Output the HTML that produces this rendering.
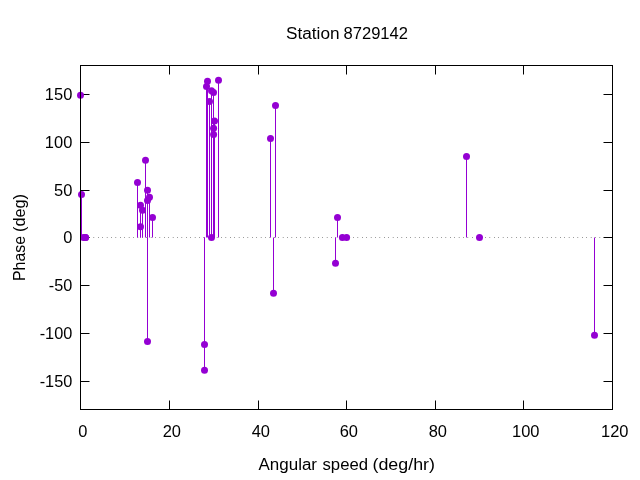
<!DOCTYPE html>
<html lang="en"><head><meta charset="utf-8"><title>Station 8729142</title>
<style>html,body{margin:0;padding:0;background:#fff;}body{width:640px;height:480px;overflow:hidden;}svg{display:block;}text{font-family:'Liberation Sans', sans-serif;font-size:16px;fill:#000;}</style></head><body>
<svg width="640" height="480" viewBox="0 0 640 480">
<rect x="0" y="0" width="640" height="480" fill="#fff"/>
<line x1="80.5" y1="237.5" x2="612.5" y2="237.5" stroke="#000" stroke-width="1" stroke-dasharray="0.4 4"/>
<g stroke="#000" stroke-width="1">
<line x1="80.5" y1="381.5" x2="89.5" y2="381.5"/>
<line x1="612.5" y1="381.5" x2="603.5" y2="381.5"/>
<line x1="80.5" y1="333.5" x2="89.5" y2="333.5"/>
<line x1="612.5" y1="333.5" x2="603.5" y2="333.5"/>
<line x1="80.5" y1="285.5" x2="89.5" y2="285.5"/>
<line x1="612.5" y1="285.5" x2="603.5" y2="285.5"/>
<line x1="80.5" y1="237.5" x2="89.5" y2="237.5"/>
<line x1="612.5" y1="237.5" x2="603.5" y2="237.5"/>
<line x1="80.5" y1="190.5" x2="89.5" y2="190.5"/>
<line x1="612.5" y1="190.5" x2="603.5" y2="190.5"/>
<line x1="80.5" y1="142.5" x2="89.5" y2="142.5"/>
<line x1="612.5" y1="142.5" x2="603.5" y2="142.5"/>
<line x1="80.5" y1="94.5" x2="89.5" y2="94.5"/>
<line x1="612.5" y1="94.5" x2="603.5" y2="94.5"/>
<line x1="80.5" y1="409.5" x2="80.5" y2="400.5"/>
<line x1="80.5" y1="65.5" x2="80.5" y2="74.5"/>
<line x1="169.5" y1="409.5" x2="169.5" y2="400.5"/>
<line x1="169.5" y1="65.5" x2="169.5" y2="74.5"/>
<line x1="258.5" y1="409.5" x2="258.5" y2="400.5"/>
<line x1="258.5" y1="65.5" x2="258.5" y2="74.5"/>
<line x1="346.5" y1="409.5" x2="346.5" y2="400.5"/>
<line x1="346.5" y1="65.5" x2="346.5" y2="74.5"/>
<line x1="435.5" y1="409.5" x2="435.5" y2="400.5"/>
<line x1="435.5" y1="65.5" x2="435.5" y2="74.5"/>
<line x1="523.5" y1="409.5" x2="523.5" y2="400.5"/>
<line x1="523.5" y1="65.5" x2="523.5" y2="74.5"/>
<line x1="612.5" y1="409.5" x2="612.5" y2="400.5"/>
<line x1="612.5" y1="65.5" x2="612.5" y2="74.5"/>
</g>
<g stroke="#9400D3" stroke-width="1">
<line x1="80.5" y1="237.5" x2="80.5" y2="95.3"/>
<line x1="81.5" y1="237.5" x2="81.5" y2="194.5"/>
<line x1="137.5" y1="237.5" x2="137.5" y2="182.5"/>
<line x1="140.5" y1="237.5" x2="140.5" y2="205.2"/>
<line x1="140.5" y1="237.5" x2="140.5" y2="226.7"/>
<line x1="142.5" y1="237.5" x2="142.5" y2="210.3"/>
<line x1="145.5" y1="237.5" x2="145.5" y2="160.3"/>
<line x1="147.5" y1="237.5" x2="147.5" y2="190.3"/>
<line x1="147.5" y1="237.5" x2="147.5" y2="200.6"/>
<line x1="147.5" y1="237.5" x2="147.5" y2="341.4"/>
<line x1="149.5" y1="237.5" x2="149.5" y2="197.3"/>
<line x1="152.5" y1="237.5" x2="152.5" y2="217.4"/>
<line x1="204.5" y1="237.5" x2="204.5" y2="344.4"/>
<line x1="204.5" y1="237.5" x2="204.5" y2="370.3"/>
<line x1="206.5" y1="237.5" x2="206.5" y2="86.6"/>
<line x1="207.5" y1="237.5" x2="207.5" y2="81.25"/>
<line x1="209.5" y1="237.5" x2="209.5" y2="101.5"/>
<line x1="211.5" y1="237.5" x2="211.5" y2="90.7"/>
<line x1="213.5" y1="237.5" x2="213.5" y2="92.4"/>
<line x1="214.5" y1="237.5" x2="214.5" y2="121"/>
<line x1="213.6" y1="237.5" x2="213.6" y2="128.2"/>
<line x1="213.6" y1="237.5" x2="213.6" y2="134.5"/>
<line x1="218.5" y1="237.5" x2="218.5" y2="80.3"/>
<line x1="270.5" y1="237.5" x2="270.5" y2="138.4"/>
<line x1="273.5" y1="237.5" x2="273.5" y2="293.3"/>
<line x1="275.5" y1="237.5" x2="275.5" y2="105.4"/>
<line x1="335.5" y1="237.5" x2="335.5" y2="263.3"/>
<line x1="337.5" y1="237.5" x2="337.5" y2="217.4"/>
<line x1="466.5" y1="237.5" x2="466.5" y2="156.4"/>
<line x1="594.5" y1="237.5" x2="594.5" y2="335.3"/>
</g>
<g fill="#9400D3">
<circle cx="80.5" cy="95.3" r="3.5"/>
<circle cx="81.5" cy="194.5" r="3.5"/>
<circle cx="83.5" cy="237.5" r="3.5"/>
<circle cx="85.5" cy="237.5" r="3.5"/>
<circle cx="85.5" cy="237.5" r="3.5"/>
<circle cx="137.5" cy="182.5" r="3.5"/>
<circle cx="140.5" cy="205.2" r="3.5"/>
<circle cx="140.5" cy="226.7" r="3.5"/>
<circle cx="142.5" cy="210.3" r="3.5"/>
<circle cx="145.5" cy="160.3" r="3.5"/>
<circle cx="147.5" cy="190.3" r="3.5"/>
<circle cx="147.5" cy="200.6" r="3.5"/>
<circle cx="147.5" cy="341.4" r="3.5"/>
<circle cx="149.5" cy="197.3" r="3.5"/>
<circle cx="152.5" cy="217.4" r="3.5"/>
<circle cx="204.5" cy="344.4" r="3.5"/>
<circle cx="204.5" cy="370.3" r="3.5"/>
<circle cx="206.5" cy="86.6" r="3.5"/>
<circle cx="207.5" cy="81.25" r="3.5"/>
<circle cx="209.5" cy="101.5" r="3.5"/>
<circle cx="211.5" cy="90.7" r="3.5"/>
<circle cx="211.5" cy="237.5" r="3.5"/>
<circle cx="213.5" cy="92.4" r="3.5"/>
<circle cx="214.5" cy="121" r="3.5"/>
<circle cx="213.6" cy="128.2" r="3.5"/>
<circle cx="213.6" cy="134.5" r="3.5"/>
<circle cx="218.5" cy="80.3" r="3.5"/>
<circle cx="270.5" cy="138.4" r="3.5"/>
<circle cx="273.5" cy="293.3" r="3.5"/>
<circle cx="275.5" cy="105.4" r="3.5"/>
<circle cx="335.5" cy="263.3" r="3.5"/>
<circle cx="337.5" cy="217.4" r="3.5"/>
<circle cx="342.4" cy="237.5" r="3.5"/>
<circle cx="346.6" cy="237.5" r="3.5"/>
<circle cx="466.5" cy="156.4" r="3.5"/>
<circle cx="479.5" cy="237.5" r="3.5"/>
<circle cx="594.5" cy="335.3" r="3.5"/>
</g>
<rect x="80.5" y="65.5" width="532" height="344" fill="none" stroke="#000" stroke-width="1"/>
<text x="72.3" y="387.2" text-anchor="end" textLength="32.61" lengthAdjust="spacingAndGlyphs">-150</text>
<text x="72.3" y="339.2" text-anchor="end" textLength="32.61" lengthAdjust="spacingAndGlyphs">-100</text>
<text x="72.3" y="291.2" text-anchor="end" textLength="23.46" lengthAdjust="spacingAndGlyphs">-50</text>
<text x="72.3" y="243.2" text-anchor="end" textLength="9.15" lengthAdjust="spacingAndGlyphs">0</text>
<text x="72.3" y="196.2" text-anchor="end" textLength="18.30" lengthAdjust="spacingAndGlyphs">50</text>
<text x="72.3" y="148.2" text-anchor="end" textLength="27.46" lengthAdjust="spacingAndGlyphs">100</text>
<text x="72.3" y="100.2" text-anchor="end" textLength="27.46" lengthAdjust="spacingAndGlyphs">150</text>
<text x="82.8" y="437.4" text-anchor="middle" textLength="9.15" lengthAdjust="spacingAndGlyphs">0</text>
<text x="171.8" y="437.4" text-anchor="middle" textLength="18.30" lengthAdjust="spacingAndGlyphs">20</text>
<text x="260.8" y="437.4" text-anchor="middle" textLength="18.30" lengthAdjust="spacingAndGlyphs">40</text>
<text x="348.8" y="437.4" text-anchor="middle" textLength="18.30" lengthAdjust="spacingAndGlyphs">60</text>
<text x="437.8" y="437.4" text-anchor="middle" textLength="18.30" lengthAdjust="spacingAndGlyphs">80</text>
<text x="525.8" y="437.4" text-anchor="middle" textLength="27.46" lengthAdjust="spacingAndGlyphs">100</text>
<text x="614.8" y="437.4" text-anchor="middle" textLength="27.46" lengthAdjust="spacingAndGlyphs">120</text>
<text y="39.1"><tspan x="286.00" textLength="53.50" lengthAdjust="spacingAndGlyphs">Station</tspan> <tspan x="343.50" textLength="64.50" lengthAdjust="spacingAndGlyphs">8729142</tspan></text>
<text y="469.75"><tspan x="258.50" textLength="58.50" lengthAdjust="spacingAndGlyphs">Angular</tspan> <tspan x="322.50" textLength="45.50" lengthAdjust="spacingAndGlyphs">speed</tspan> <tspan x="372.50" textLength="62.50" lengthAdjust="spacingAndGlyphs">(deg/hr)</tspan></text>
<text transform="translate(24.7 0) rotate(-90)" y="0"><tspan x="-281.00" textLength="45.00" lengthAdjust="spacingAndGlyphs">Phase</tspan> <tspan x="-232.00" textLength="38.00" lengthAdjust="spacingAndGlyphs">(deg)</tspan></text>
</svg></body></html>
